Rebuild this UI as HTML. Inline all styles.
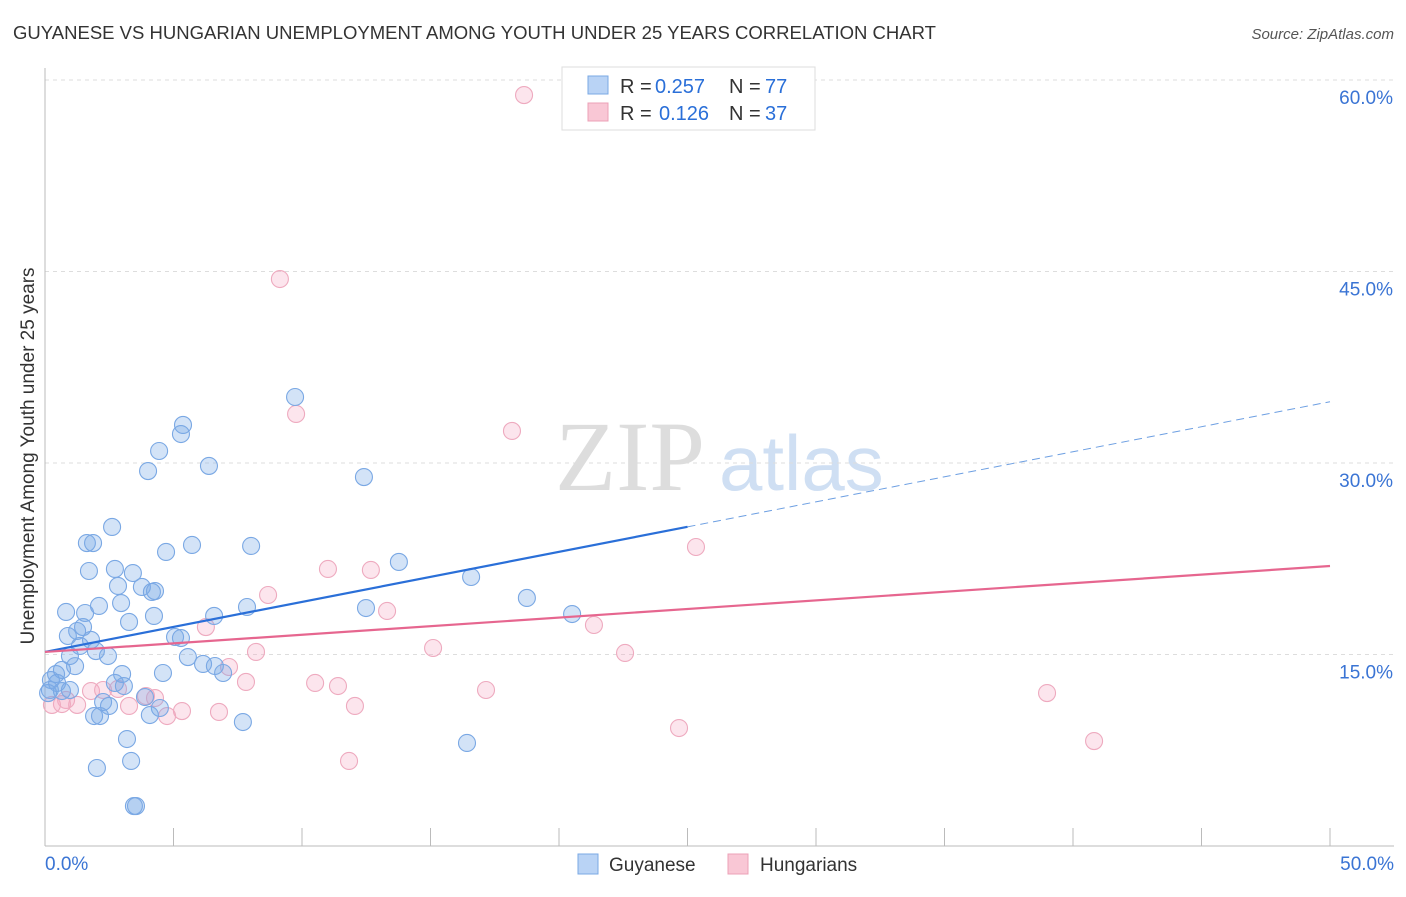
<!DOCTYPE html>
<html><head><meta charset="utf-8"><style>
body{margin:0;background:#fff;font-family:"Liberation Sans",sans-serif}
</style></head><body>
<svg id="chart" width="1406" height="892" xmlns="http://www.w3.org/2000/svg" font-family="Liberation Sans, sans-serif">
<text x="13" y="39" font-size="18" fill="#333" textLength="923" lengthAdjust="spacingAndGlyphs">GUYANESE VS HUNGARIAN UNEMPLOYMENT AMONG YOUTH UNDER 25 YEARS CORRELATION CHART</text>
<text x="1394" y="39" font-size="15" fill="#555" font-style="italic" text-anchor="end">Source: ZipAtlas.com</text>
<g>
<text x="555" y="490" font-size="100" fill="#ddd" font-family="Liberation Serif, serif">ZIP</text>
<text x="719" y="490" font-size="78" fill="#cfdff3">atlas</text>
</g>
<g id="grid"></g>
<g id="axes"></g>
<g id="pts"></g>
<g id="trend"></g>
<text transform="translate(34,456) rotate(-90)" font-size="19" fill="#333" text-anchor="middle">Unemployment Among Youth under 25 years</text>
<g>
<rect x="562" y="67" width="253" height="63" fill="#fff" stroke="#ddd"/>
<rect x="588" y="76" width="20" height="18" fill="#b9d3f5" stroke="#7aa8e4"/>
<rect x="588" y="103" width="20" height="18" fill="#f9c7d5" stroke="#eca0b7"/>
<text y="93" font-size="20" fill="#333"><tspan x="620">R =</tspan><tspan x="655" fill="#2a6fd8">0.257</tspan><tspan x="729">N =</tspan><tspan x="765" fill="#2a6fd8">77</tspan></text>
<text y="120" font-size="20" fill="#333"><tspan x="620">R =</tspan><tspan x="659" fill="#2a6fd8">0.126</tspan><tspan x="729">N =</tspan><tspan x="765" fill="#2a6fd8">37</tspan></text>
</g>
<g>
<rect x="578" y="854" width="20" height="20" fill="#b9d3f5" stroke="#7aa8e4"/>
<text x="609" y="871" font-size="19" fill="#333">Guyanese</text>
<rect x="728" y="854" width="20" height="20" fill="#f9c7d5" stroke="#eca0b7"/>
<text x="760" y="871" font-size="19" fill="#333">Hungarians</text>
</g>
</svg>
<script>
const yTicks=[15,30,45,60];
const yTickLabels=["15.0%","30.0%","45.0%","60.0%"];
const xTickLabels=["0.0%","50.0%"];
const guyX=[9.73,5.37,5.29,4.44,4.01,6.38,12.41,2.61,1.63,1.87,5.72,8.02,4.71,13.77,1.71,2.72,3.42,16.58,2.84,3.77,4.16,4.28,18.75,2.96,2.10,0.82,7.86,12.49,1.56,4.24,20.51,6.58,3.27,1.48,1.25,0.89,5.06,5.29,1.79,1.36,1.98,2.45,0.97,5.56,1.17,0.66,6.15,6.61,6.93,4.59,3.00,0.43,0.23,0.47,2.72,3.07,0.19,0.66,0.97,3.89,2.26,2.49,4.47,1.91,2.14,4.08,7.70,16.42,3.19,3.35,2.02,3.54,3.46,0.12];
const guyY=[35.17,32.98,32.27,30.94,29.37,29.77,28.90,24.99,23.73,23.73,23.58,23.50,23.03,22.25,21.54,21.70,21.38,21.07,20.37,20.29,19.90,19.97,19.43,19.03,18.80,18.33,18.72,18.64,18.25,18.02,18.17,18.02,17.55,17.15,16.84,16.45,16.37,16.29,16.14,15.67,15.27,14.88,14.88,14.80,14.09,13.79,14.26,14.10,13.55,13.55,13.47,13.47,13.00,12.77,12.77,12.53,12.22,12.14,12.22,11.67,11.28,10.97,10.81,10.18,10.18,10.26,9.71,8.07,8.38,6.66,6.11,3.13,3.13,11.98];
const hunX=[18.64,9.14,9.77,18.17,25.33,11.01,12.68,8.68,13.31,21.36,6.26,15.10,8.21,22.57,7.16,7.82,10.51,11.40,17.16,38.99,1.79,2.26,2.84,3.93,4.28,0.82,12.06,3.27,1.25,5.33,6.77,4.75,0.66,0.27,24.67,11.83,40.82];
const hunY=[58.82,44.41,33.84,32.51,23.42,21.70,21.62,19.66,18.41,17.31,17.15,15.51,15.20,15.12,14.02,12.85,12.77,12.53,12.22,11.98,12.14,12.22,12.30,11.75,11.59,11.44,10.97,10.97,11.05,10.57,10.50,10.18,11.12,11.05,9.24,6.66,8.22];
const guyTrend=[15.2,0.392]; // intercept, slope
const hunTrend=[15.2,0.1346];
const NS="http://www.w3.org/2000/svg";
const X=v=>45+v/50*1285, Y=v=>846-v/15*191.5;
function mk(t,a,p){const e=document.createElementNS(NS,t);for(const k in a)e.setAttribute(k,a[k]);(p||document.getElementById('chart')).appendChild(e);return e;}
const grid=document.getElementById('grid'),axes=document.getElementById('axes');
yTicks.forEach((t,i)=>{
 const l=mk('line',{x1:45,x2:1394,y1:Y(t),y2:Y(t),stroke:'#ddd','stroke-dasharray':'4,4'},grid);
 
 
 const tx=mk('text',{x:1393,y:Y(t)+24,'font-size':19,fill:'#3a74d4','text-anchor':'end'},axes);
 tx.textContent=yTickLabels[i];
 
 
});
mk('line',{x1:45,x2:45,y1:68,y2:846,stroke:'#bbb'},axes);
mk('line',{x1:45,x2:1394,y1:846,y2:846,stroke:'#bbb'},axes);
for(let i=0;i<=10;i++){mk('line',{x1:X(i*5),x2:X(i*5),y1:828,y2:846,stroke:'#bbb'},axes);}
const xl0=mk('text',{x:45,y:870,'font-size':19,fill:'#3a74d4'},axes);xl0.textContent=xTickLabels[0];


const xl1=mk('text',{x:1394,y:870,'font-size':19,fill:'#3a74d4','text-anchor':'end'},axes);xl1.textContent=xTickLabels[1];


const pts=document.getElementById('pts');
hunX.forEach((x,i)=>{const c=mk('circle',{cx:X(x),cy:Y(hunY[i]),r:8.5,fill:'rgba(244,170,195,0.3)',stroke:'#eeaabf','stroke-width':1.1},pts);
 
 });
guyX.forEach((x,i)=>{const c=mk('circle',{cx:X(x),cy:Y(guyY[i]),r:8.5,fill:'rgba(120,170,232,0.33)',stroke:'#7aa8e4','stroke-width':1.1},pts);
 
 });
const tr=document.getElementById('trend');
let l=mk('line',{x1:X(0),y1:Y(guyTrend[0]),x2:X(25),y2:Y(guyTrend[0]+guyTrend[1]*25),stroke:'#2a6fd8','stroke-width':2.2},tr);


l=mk('line',{x1:X(25),y1:Y(guyTrend[0]+guyTrend[1]*25),x2:X(50),y2:Y(guyTrend[0]+guyTrend[1]*50),stroke:'#6d9fe2','stroke-width':1,'stroke-dasharray':'8,5'},tr);


l=mk('line',{x1:X(0),y1:Y(hunTrend[0]),x2:X(50),y2:Y(hunTrend[0]+hunTrend[1]*50),stroke:'#e6668f','stroke-width':2.2},tr);


</script>
</body></html>
